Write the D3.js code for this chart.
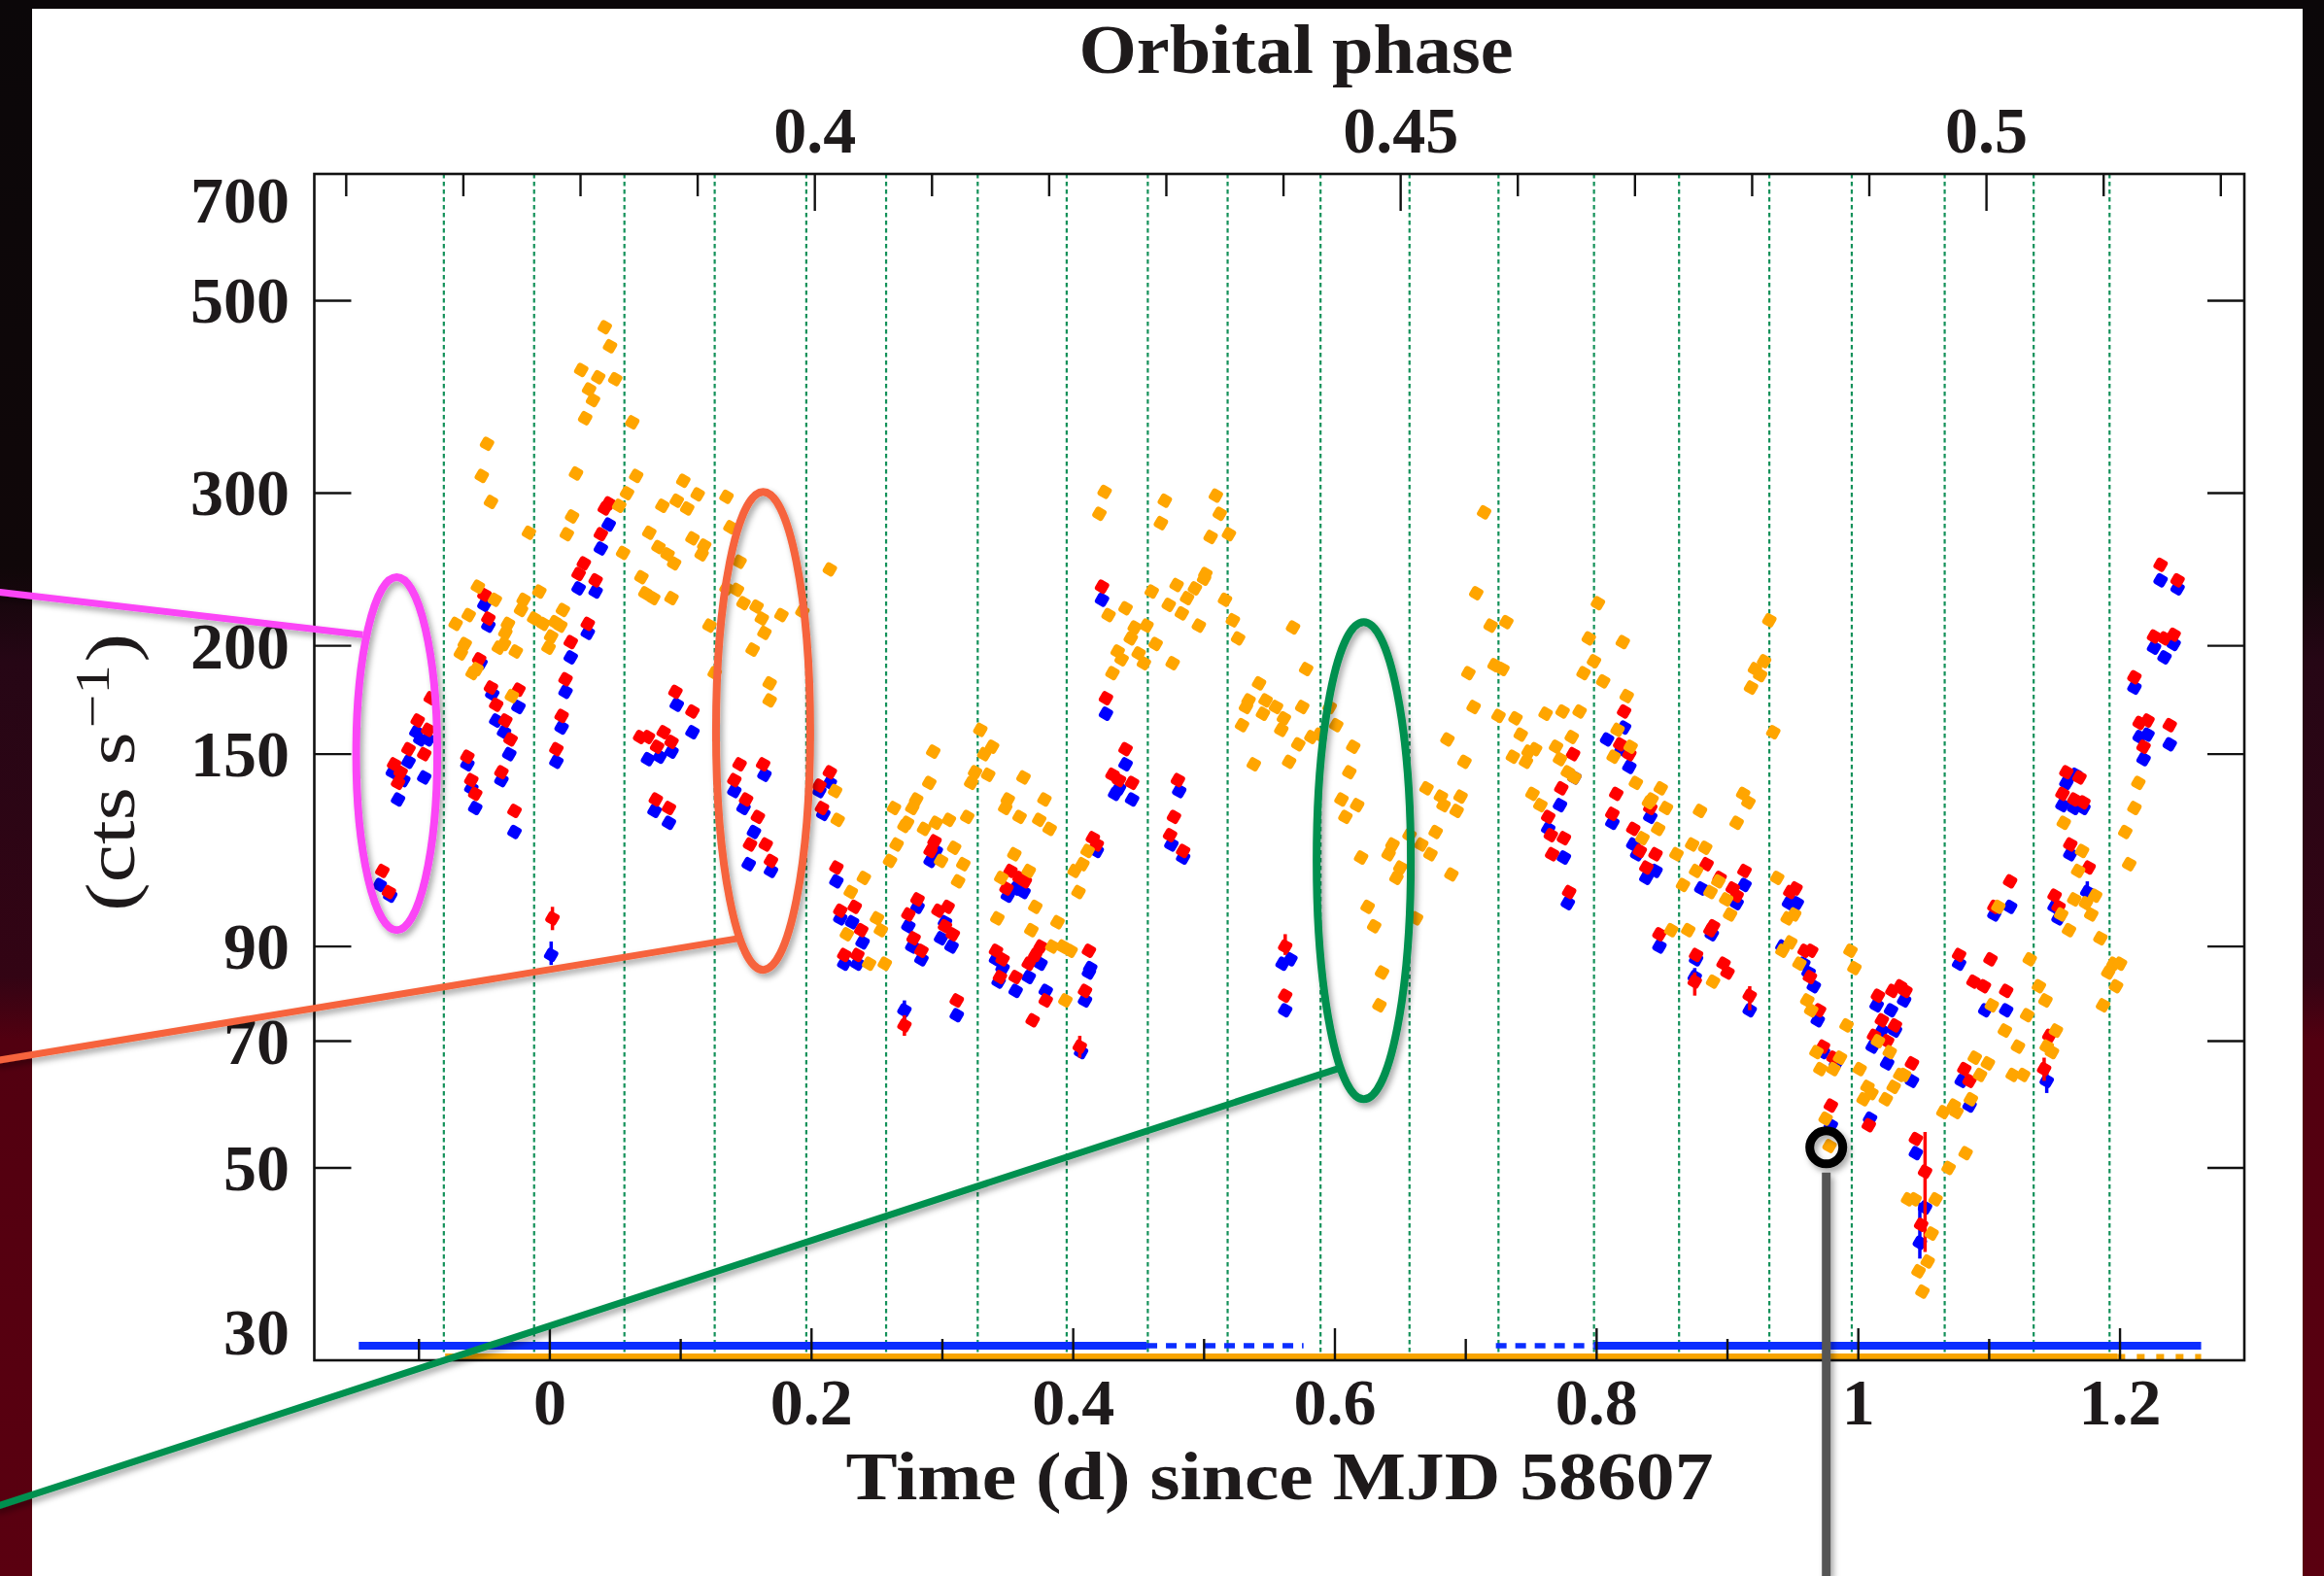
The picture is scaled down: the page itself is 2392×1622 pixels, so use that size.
<!DOCTYPE html>
<html lang="en">
<head>
<meta charset="utf-8">
<title>Light curve vs orbital phase</title>
<script src="https://d3js.org/d3.v7.min.js"></script>
<style>
  body { margin: 0; background: #0c0709; }
  svg { display: block; }
  text { font-family: "Liberation Serif", "DejaVu Serif", serif; fill: #1e1a1b; }
</style>
</head>
<body>
<svg id="chart" width="2392" height="1622"></svg>
<script>
// ---- data (time in days since MJD 58607, rate in cts/s) ----
const orangeData = [
  [0.042,466],[0.046,443],[0.024,416],[0.037,408],[0.050,406],[0.030,395],[0.033,384],[0.027,366],[0.063,362],[-0.048,342],
  [-0.052,314],[0.020,316],[0.066,314],[0.102,310],
  [-0.045,293],[-0.016,270],[0.017,282],[0.013,269],[0.053,290],[0.059,300],[0.056,256],[0.076,270],[0.086,290],[0.097,294],
  [0.105,288],[0.113,299],[0.135,297],[0.083,260],[0.090,255],[0.095,249],[0.109,266],[0.118,261],[0.116,255],[0.070,240],
  [0.073,230],[0.079,227],[0.093,227],[0.138,274],[0.145,250],[0.135,233],[0.143,232],[0.148,224],[0.158,222],[0.162,215],
  [0.122,211],[0.155,198],[0.164,207],[0.168,181],[0.168,173],[0.126,186],
  [-0.055,234],[-0.042,226],[-0.062,217],[-0.072,212],[-0.032,212],[-0.020,226],[-0.022,220],[-0.008,231],[-0.012,215],
  [-0.005,212],[0.010,220],[0.004,213],[0.008,211],[0.001,205],[-0.034,207],[-0.035,201],[-0.001,199],[-0.065,201],
  [-0.068,196],[-0.039,199],[-0.026,197],[-0.056,188],[-0.059,186],[-0.029,175],
  [0.424,301],[0.420,284],[0.470,294],[0.509,298],[0.512,284],[0.467,277],[0.505,267],[0.519,269],[0.214,245],[0.177,217],
  [0.193,219],[0.440,221],[0.427,217],[0.460,231],[0.479,235],[0.473,223],[0.483,218],[0.493,233],[0.500,239],[0.501,242],
  [0.487,227],[0.516,226],[0.447,210],[0.456,211],[0.496,211],[0.444,204],[0.463,201],[0.434,197],[0.437,193],[0.450,196],
  [0.454,191],[0.476,191],[0.430,186],[0.522,214],[0.526,204],[0.568,210],[0.578,188],[0.542,181],[0.534,173],[0.547,173],
  [0.555,170],[0.532,170],[0.545,167],[0.529,162],[0.561,165],[0.559,160],[0.575,170],[0.596,170],[0.601,162],[0.572,154],
  [0.582,157],[0.588,158],[0.538,146],[0.565,147],[0.614,153],[0.611,143],[0.605,133],[0.617,131],[0.608,127],[0.620,114],
  [0.625,100],[0.630,95],[0.644,118],[0.641,115],[0.650,111],[0.647,108],[0.657,121],[0.662,97],[0.666,118],[0.673,115],
  [0.670,137],[0.681,134],[0.683,131],[0.696,134],[0.693,129],[0.677,122],[0.689,109],[0.686,156],[0.699,147],[0.702,186],
  [0.706,170],[0.708,230],[0.714,285],[0.719,211],[0.731,213],[0.722,190],[0.728,188],[0.725,166],[0.738,165],[0.742,158],
  [0.748,151],[0.753,152],[0.736,149],[0.746,147],[0.751,135],[0.757,131],[0.761,167],
  [0.263,130],[0.280,133],[0.277,130],[0.273,125],[0.271,124],[0.286,123],[0.295,125],[0.305,126],[0.319,127],[0.290,139],
  [0.293,151],[0.265,118],[0.260,113],[0.309,117],[0.316,112],[0.312,107],[0.299,113],[0.329,160],[0.338,153],[0.332,150],
  [0.325,143],[0.322,139],[0.335,142],[0.350,133],[0.348,130],[0.362,141],[0.378,133],[0.359,127],[0.374,126],[0.382,123],
  [0.355,115],[0.345,108],[0.366,110],[0.371,100],[0.342,97],[0.368,94],[0.388,96],[0.384,90],[0.392,90],[0.398,89],
  [0.404,104],[0.401,110],[0.407,112],[0.411,116],[0.218,136],[0.220,126],[0.230,104],[0.240,108],[0.227,93],[0.250,97],
  [0.253,94],[0.244,86],[0.256,86],[0.394,78],[0.636,84],[0.634,77],
  [0.801,224],[0.794,204],[0.798,192],[0.820,202],[0.790,186],[0.805,182],[0.823,175],[0.774,168],[0.787,168],[0.781,157],
  [0.769,153],[0.772,148],[0.816,160],[0.813,149],[0.826,153],[0.778,143],[0.783,141],[0.830,139],[0.849,137],[0.842,133],
  [0.840,132],[0.853,130],[0.847,123],[0.835,120],[0.879,129],[0.873,118],[0.883,117],[0.861,115],[0.866,106],[0.876,110],
  [0.887,104],[0.893,107],[0.899,102],[0.902,98],[0.907,125],[0.912,135],[0.916,132],[0.857,94],[0.870,94],[0.932,214],
  [0.928,192],[0.921,188],[0.925,185],[0.918,179],[0.935,159],[0.938,108],[0.946,97],[0.951,98],[0.948,91],[0.942,89],
  [0.955,86],[0.994,89],[0.997,85],[1.131,87],[1.157,125],[1.171,116],[1.168,110],[1.165,102],[1.174,101],[1.181,103],
  [1.155,98],[1.178,98],[1.161,94],[1.185,92],[1.107,100],[1.214,139],[1.211,130],[1.204,122],[1.207,112],[1.195,86],
  [1.200,86],
  [0.889,82],[0.961,78],[0.964,76],[0.968,68],[0.971,65],[0.981,65],[0.986,67],[0.991,73],[0.975,57],[0.978,53],
  [1.001,65],[1.007,62],[1.004,60],[1.010,61],[1.021,60],[1.015,70],[1.024,68],[1.027,62],[1.032,64],[1.035,64],
  [1.038,46],[1.043,46],[1.056,42],[1.059,46],[1.053,39],[1.046,38],[1.049,36],[1.065,58],[1.075,58],[1.073,59],
  [1.086,60],[1.089,67],[1.099,66],[1.093,64],[1.082,52],[1.069,50],[1.102,77],[1.112,72],[1.122,69],[1.129,75],
  [1.118,64],[1.126,64],[1.138,81],[1.143,78],[1.144,69],[1.148,68],[1.151,72],[1.187,77],[1.197,81],[1.191,84]
];

const redData = [
  [-0.128,110],[-0.123,104],[-0.119,146],[-0.114,143],[-0.116,139],[-0.108,152],[-0.101,164],[-0.093,160],[-0.096,150],[-0.091,174],
  [-0.050,229],[-0.047,215],[-0.054,193],[-0.045,179],[-0.024,178],[-0.041,171],[-0.034,164],[-0.030,156],[-0.063,149],[-0.060,140],
  [-0.057,135],[-0.037,143],[-0.027,129],
  [0.002,97],[0.005,152],[0.009,166],[0.012,183],[0.016,202],[0.029,212],[0.022,242],[0.026,249],[0.035,238],[0.039,269],
  [0.042,288],[0.045,292],
  [0.096,177],[0.109,168],[0.069,157],[0.075,157],[0.087,159],[0.093,155],[0.082,153],[0.081,133],[0.091,130],
  [0.145,146],[0.163,146],[0.141,140],[0.150,133],[0.159,127],[0.153,118],[0.165,118],[0.169,113],
  [0.214,143],[0.206,138],[0.208,130],[0.219,111],[0.222,99],[0.233,100],[0.238,94],[0.225,88],[0.235,88],
  [0.294,119],[0.291,116],[0.281,102],[0.274,98],[0.278,92],[0.284,89],[0.304,100],[0.297,99],[0.302,95],[0.308,93],
  [0.352,110],[0.359,108],[0.363,107],[0.349,105],[0.341,89],[0.346,87],[0.375,90],[0.371,88],[0.366,86],[0.412,89],
  [0.415,120],[0.418,118],
  [0.422,234],[0.425,174],[0.440,152],[0.430,142],[0.435,140],[0.445,139],
  [0.480,140],[0.477,127],[0.474,121],[0.484,116],
  [0.562,90],[0.763,127],[0.765,121],[0.766,115],
  [0.271,73],[0.311,78],[0.344,83],[0.356,83],[0.369,74],[0.379,78],[0.409,80],[0.405,69],[0.562,79],
  [1.231,248],[1.244,238],[1.226,205],[1.234,204],[1.241,206],[1.211,184],[1.215,163],[1.221,164],[1.238,162],[1.218,153],
  [1.159,143],[1.169,141],[1.156,135],[1.165,133],[1.172,132],[1.162,118],[1.176,111],[1.150,103],[1.153,100],
  [1.116,107],[1.104,100],[1.077,88],[1.101,87],
  [0.948,104],[0.952,105],[0.959,89],[0.964,89],
  [0.913,110],[0.904,105],[0.907,103],[0.894,108],[0.884,112],[0.889,95],[0.887,94],[0.897,86],[0.876,88],[0.848,93],
  [0.821,168],[0.818,154],[0.825,150],[0.782,150],[0.773,137],[0.775,120],[0.779,104],[0.815,135],[0.812,128],[0.828,123],
  [0.833,116],[0.845,115],[0.838,111],[0.841,130],
  [0.875,82],[0.900,84],[0.917,79],[0.963,83],[0.970,76],[0.973,69],[0.981,67],[0.979,59],[1.008,56],[1.015,79],
  [1.026,80],[1.032,81],[1.036,80],[1.018,74],[1.028,73],[1.012,71],[1.022,70],[1.041,66],[1.044,54],[1.051,49.5],
  [1.048,43],[1.081,65],[1.085,63],[1.088,82],[1.096,81],[1.113,80],[1.146,71],[1.142,65]
];

const blueData = [
  [-0.130,106],[-0.122,103],[-0.120,143],[-0.112,140],[-0.116,133],[-0.108,147],[-0.102,159],[-0.099,156],[-0.093,156],[-0.096,141],
  [-0.050,223],[-0.047,211],[-0.053,191],[-0.044,176],[-0.024,170],[-0.041,164],[-0.035,159],[-0.031,150],[-0.063,146],[-0.060,137],
  [-0.057,130],[-0.037,140],[-0.027,122],
  [0.001,88],[0.005,147],[0.009,161],[0.012,177],[0.016,194],[0.029,207],[0.022,233],[0.035,231],[0.039,259],[0.045,276],
  [0.097,171],[0.109,159],[0.075,148],[0.084,149],[0.093,151],[0.080,129],[0.091,125],
  [0.141,136],[0.164,142],[0.148,130],[0.156,122],[0.152,112],[0.169,110],
  [0.214,139],[0.206,136],[0.209,128],[0.219,107],[0.222,97],[0.231,96],[0.239,91],[0.225,86],[0.235,86],
  [0.295,116],[0.291,113],[0.281,100],[0.274,95],[0.277,90],[0.284,87],[0.302,96],[0.299,92],[0.307,90],
  [0.356,105],[0.362,104],[0.350,103],[0.341,87],[0.346,85],[0.375,86],[0.413,85],[0.418,116],
  [0.422,226],[0.425,167],[0.440,146],[0.432,135],[0.435,137],[0.445,133],
  [0.481,136],[0.475,118],[0.484,114],
  [0.560,86],[0.566,87],[0.763,123],
  [0.271,76],[0.311,75],[0.343,82],[0.356,80],[0.366,83],[0.379,80],[0.409,78],[0.406,68],[0.412,84],[0.562,76],
  [1.231,238],[1.244,233],[1.226,199],[1.234,194],[1.241,201],[1.211,179],[1.215,157],[1.221,158],[1.238,154],[1.218,148],
  [1.159,139],[1.166,142],[1.156,131],[1.165,130],[1.172,130],[1.162,115],[1.175,104],[1.150,100],[1.153,97],
  [1.116,100],[1.104,98],[1.077,86],
  [0.947,101],[0.953,101],[0.942,90],[0.958,86],
  [0.913,106],[0.907,101],[0.880,105],[0.888,93],[0.876,87],[0.848,90],
  [0.808,156],[0.821,161],[0.819,152],[0.825,145],[0.772,131],[0.783,141],[0.775,114],[0.778,101],[0.841,127],[0.812,125],
  [0.828,118],[0.831,115],[0.838,108],[0.845,110],
  [0.875,83],[0.917,76],[0.962,84],[0.966,81],[0.969,74],[0.973,68],[0.983,66],[0.979,56],[1.009,57],[1.014,77],
  [1.025,76],[1.035,78],[1.018,72],[1.028,72],[1.011,69],[1.022,66],[1.041,63],[1.044,52],[1.051,45],[1.047,41],
  [1.079,63],[1.085,59],[1.097,76],[1.113,76],[1.144,63]
];

// visible error bars: [t, low, high]
const redErr = [[0.002,94,100],[1.051,40,55],[0.271,71,75],[0.917,76,81],[0.875,79,84],[0.562,88,93],[1.142,63,67],[0.405,67,71]];
const blueErr = [[0.001,85.7,91.2],[1.047,39.3,45.6],[0.271,74,78],[1.175,101,107],[0.875,81,85],[1.144,61,65]];

// satellite orbit boundaries (days)
const orbitEdges = [-0.081,-0.012,0.057,0.126,0.196,0.257,0.327,0.395,0.457,0.518,0.589,0.657,0.725,0.798,0.863,0.932,0.995,1.066,1.134,1.192];

// coverage bars at the bottom
const blueSolid = [[-0.146,0.456],[0.798,1.262]];
const blueDashed = [[0.456,0.576],[0.723,0.798]];
const orangeSolid = [[-0.08,1.198]];
const orangeDashed = [[1.198,1.262]];

const yTicks = [50, 70, 90, 150, 200, 300, 500];
const yLabels = [30, 50, 70, 90, 150, 200, 300, 500, 700];
const xTicks = d3.range(-1, 13).map(i => i / 10);
const xLabels = [0, 0.2, 0.4, 0.6, 0.8, 1, 1.2];
const phaseTicks = d3.range(36, 53).map(i => i / 100);
const phaseLabels = [0.4, 0.45, 0.5];
const phase0 = 0.37738, periodDays = 8.954;

// annotations
const ellipses = [
  {color: "#fb45f6", t: -0.117, dt: 0.031, lo: 94, hi: 240},
  {color: "#f6643c", t: 0.163, dt: 0.036, lo: 84.6, hi: 301},
  {color: "#00904f", t: 0.622, dt: 0.036, lo: 60, hi: 213}
];
const callouts = [
  {color: "#fb45f6", from: [-0.425, 231], to: [-0.143, 206]},
  {color: "#f6643c", from: [-0.425, 66.4], to: [0.145, 92]},
  {color: "#00904f", from: [-0.425, 20.3], to: [0.604, 65.2]}
];
const circled = [0.9755, 52.8];

// ---- drawing ----
const width = 2392, height = 1622;
const L = 323.5, R = 2310, T = 179, B = 1400;

const svg = d3.select("#chart");
const x = d3.scaleLinear().domain([-0.18, 1.295]).range([L, R]);
const y = d3.scaleLog().domain([30, 700]).range([B, T]);
const phaseAt = t => phase0 + t / periodDays;
const xp = d3.scaleLinear().domain([phaseAt(-0.18), phaseAt(1.295)]).range([L, R]);

const defs = svg.append("defs");
const grad = defs.append("linearGradient").attr("id", "bg")
  .attr("x1", 0).attr("y1", 0).attr("x2", 0).attr("y2", 1);
[["0%", "#0b0709"], ["36%", "#100709"], ["42%", "#260615"], ["62%", "#330414"], ["66%", "#520010"], ["100%", "#5a0010"]]
  .forEach(s => grad.append("stop").attr("offset", s[0]).attr("stop-color", s[1]));
defs.append("filter").attr("id", "shadow")
  .attr("x", "-20%").attr("y", "-20%").attr("width", "140%").attr("height", "140%")
  .append("feDropShadow").attr("dx", 3).attr("dy", 4).attr("stdDeviation", 3)
  .attr("flood-color", "#000").attr("flood-opacity", 0.35);

svg.append("rect").attr("width", width).attr("height", height).attr("fill", "url(#bg)");
svg.append("rect").attr("x", 33).attr("y", 9).attr("width", 2337).attr("height", height - 9).attr("fill", "#fff");

// orbit boundaries
svg.append("g").selectAll("line").data(orbitEdges).enter().append("line")
  .attr("x1", d => x(d)).attr("x2", d => x(d))
  .attr("y1", T).attr("y2", B - 8)
  .attr("stroke", "#14915a").attr("stroke-width", 2.2)
  .attr("stroke-dasharray", "4.5,3.5");

// coverage bars
function bars(data, yy, w, color, dash) {
  svg.append("g").selectAll("line").data(data).enter().append("line")
    .attr("x1", d => x(d[0])).attr("x2", d => x(d[1]))
    .attr("y1", yy).attr("y2", yy)
    .attr("stroke", color).attr("stroke-width", w)
    .attr("stroke-dasharray", dash || null);
}
bars(orangeSolid, B - 3.5, 7, "#f8a400");
bars(orangeDashed, B - 3.5, 6, "#f8a400", "8,12");
bars(blueSolid, B - 15, 8, "#0b2dff");
bars(blueDashed, B - 15, 5.5, "#0b2dff", "11,9");

// data points
function errBars(data, color) {
  svg.append("g").selectAll("line").data(data).enter().append("line")
    .attr("x1", d => x(d[0])).attr("x2", d => x(d[0]))
    .attr("y1", d => y(d[1])).attr("y2", d => y(d[2]))
    .attr("stroke", color).attr("stroke-width", 3.5);
}
function points(data, color) {
  svg.append("g").selectAll("rect").data(data).enter().append("rect")
    .attr("x", -6.2).attr("y", -6.2).attr("width", 12.4).attr("height", 12.4).attr("rx", 3)
    .attr("transform", d => "translate(" + x(d[0]) + "," + y(d[1]) + ") rotate(30)")
    .attr("fill", color);
}
errBars(blueErr, "#0000ff");
points(blueData, "#0000ff");
errBars(redErr, "#ff0000");
points(redData, "#ff0000");
points(orangeData, "#ffa500");

// frame
svg.append("rect").attr("x", L).attr("y", T).attr("width", R - L).attr("height", B - T)
  .attr("fill", "none").attr("stroke", "#111").attr("stroke-width", 2.6);

const ticks = svg.append("g").attr("stroke", "#111").attr("stroke-width", 2.4);
yTicks.forEach(v => {
  ticks.append("line").attr("x1", L).attr("x2", L + 38).attr("y1", y(v)).attr("y2", y(v));
  ticks.append("line").attr("x1", R).attr("x2", R - 38).attr("y1", y(v)).attr("y2", y(v));
});
xTicks.forEach(v => {
  const major = Math.abs(Math.round(v * 10)) % 2 === 0;
  ticks.append("line").attr("x1", x(v)).attr("x2", x(v)).attr("y1", B).attr("y2", B - (major ? 33 : 22));
});
phaseTicks.forEach(v => {
  const major = Math.round(v * 100) % 5 === 0;
  ticks.append("line").attr("x1", xp(v)).attr("x2", xp(v)).attr("y1", T).attr("y2", T + (major ? 38 : 23));
});

// tick labels
const fs = 68;
svg.append("g").selectAll("text").data(yLabels).enter().append("text")
  .attr("x", 298).attr("y", d => Math.max(229, Math.min(1394, y(d) + 23)))
  .attr("text-anchor", "end").attr("font-size", fs).attr("font-weight", "bold")
  .text(d => d);
svg.append("g").selectAll("text").data(xLabels).enter().append("text")
  .attr("x", d => x(d)).attr("y", 1466)
  .attr("text-anchor", "middle").attr("font-size", fs).attr("font-weight", "bold")
  .text(d => d);
svg.append("g").selectAll("text").data(phaseLabels).enter().append("text")
  .attr("x", d => xp(d)).attr("y", 157)
  .attr("text-anchor", "middle").attr("font-size", fs).attr("font-weight", "bold")
  .text(d => d);

// axis titles
svg.append("text").attr("x", 1334).attr("y", 75).attr("text-anchor", "middle")
  .attr("font-size", 72).attr("font-weight", "bold")
  .attr("textLength", 447).attr("lengthAdjust", "spacingAndGlyphs")
  .text("Orbital phase");
svg.append("text").attr("x", 1317).attr("y", 1543).attr("text-anchor", "middle")
  .attr("font-size", 70).attr("font-weight", "bold")
  .attr("textLength", 893).attr("lengthAdjust", "spacingAndGlyphs")
  .text("Time (d) since MJD 58607");
const yl = svg.append("text").attr("transform", "translate(138,795) rotate(-90)")
  .attr("text-anchor", "middle").attr("font-size", 72)
  .attr("textLength", 286).attr("lengthAdjust", "spacingAndGlyphs");
yl.append("tspan").text("(cts s");
yl.append("tspan").attr("dy", -26).attr("font-size", 50).attr("dx", 3).text("\u22121");
yl.append("tspan").attr("dy", 26).attr("dx", 2).text(")");

// annotations
const ann = svg.append("g").attr("fill", "none").attr("filter", "url(#shadow)");
callouts.forEach(c => {
  ann.append("line")
    .attr("x1", x(c.from[0])).attr("y1", y(c.from[1]))
    .attr("x2", x(c.to[0])).attr("y2", y(c.to[1]))
    .attr("stroke", c.color).attr("stroke-width", 7);
});
ellipses.forEach(e => {
  ann.append("ellipse")
    .attr("cx", x(e.t)).attr("cy", (y(e.lo) + y(e.hi)) / 2)
    .attr("rx", x(e.t + e.dt) - x(e.t)).attr("ry", (y(e.lo) - y(e.hi)) / 2)
    .attr("stroke", e.color).attr("stroke-width", 8);
});
const cx = x(circled[0]), cy = y(circled[1]);
ann.append("line").attr("x1", cx).attr("x2", cx).attr("y1", cy + 26).attr("y2", height)
  .attr("stroke", "#555").attr("stroke-width", 9);
ann.append("circle").attr("cx", cx).attr("cy", cy).attr("r", 17)
  .attr("stroke", "#000").attr("stroke-width", 9);
</script>
</body>
</html>
